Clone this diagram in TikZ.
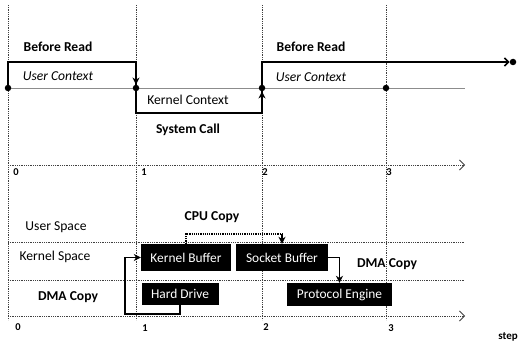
\documentclass[tikz,border=0pt]{standalone}
\usepackage{fontspec}
\setmainfont{Carlito}
\usetikzlibrary{arrows.meta}
\begin{document}
\begin{tikzpicture}[x=1pt,y=-1pt,
  grid/.style={densely dotted, line width=0.8pt, black!75},
  bound/.style={line width=0.7pt, black!45},
  lbl/.style={font=\fontsize{13.6}{15}\selectfont, inner sep=0pt},
  blbl/.style={font=\fontsize{13.6}{15}\selectfont\bfseries, inner sep=0pt},
  ilbl/.style={font=\fontsize{13.6}{15}\selectfont\itshape, inner sep=0pt},
  tick/.style={font=\fontsize{10.5}{12}\selectfont\bfseries, inner sep=0pt},
  bbox/.style={fill=black, text=white, font=\fontsize{13.4}{15}\selectfont, inner sep=0pt},
  tl/.style={line width=1.6pt, black},
  dot/.style={circle, fill=black, inner sep=0pt, minimum size=6.5pt}]
\useasboundingbox (0,0) rectangle (523,345);
% vertical grid
\foreach \x in {8,136,262,386} \draw[grid] (\x,5) -- (\x,320);
% horizontal lines
\draw[bound] (8,88) -- (465,88);
\draw[grid,-{Straight Barb[length=5pt]}] (8,165) -- (465,165);
\draw[grid] (8,242) -- (465,242);
\draw[grid] (8,280) -- (465,280);
\draw[grid,-{Straight Barb[length=5pt]}] (8,316) -- (465,316);
% ticks
\node[tick] (t0) at (16,172) {0};
\node[tick] (t1) at (144,172) {1};
\node[tick] (t2) at (265,172) {2};
\node[tick] (t3) at (389,172) {3};
\node[tick] (b0) at (18,327) {0};
\node[tick] (b1) at (145,328) {1};
\node[tick] (b2) at (266,327) {2};
\node[tick] (b3) at (391,328) {3};
\node[tick, font=\fontsize{11}{12}\selectfont\bfseries] (step) at (508,337) {step};
% timeline
\node[dot] (d0) at (8,88) {};
\node[dot] (d1) at (136,88) {};
\node[dot] (d2) at (262,88) {};
\node[dot] (d3) at (386,88) {};
\node[dot] (dend) at (513,62) {};
\coordinate (p1) at (8,62);
\coordinate (p2) at (136,62);
\coordinate (p3) at (136,113);
\coordinate (p4) at (262,113);
\coordinate (p5) at (262,62);
\draw[tl] (d0.center) -- (p1) -- (p2) -- (p3) -- (p4) -- (p5) -- (506,62);
\draw[tl,-{Stealth[length=7pt,width=7pt]}] (p2) -- (d1.north);
\draw[tl,-{Stealth[length=7pt,width=7pt]}] (p4) -- (d2.south);
\draw[tl,-{Straight Barb[length=4pt,width=8pt]}] (p5) -- (dend.west);
% texts
\node[blbl] (br1) at (58,47) {Before Read};
\node[blbl] (br2) at (311,47) {Before Read};
\node[ilbl] (uc1) at (58,76) {User Context};
\node[ilbl] (uc2) at (311,77) {User Context};
\node[lbl] (kc) at (188,100) {Kernel Context};
\node[blbl] (sc) at (188,130) {System Call};
\node[lbl] (us) at (56,227) {User Space};
\node[lbl] (ks) at (55,257) {Kernel Space};
\node[blbl] (dma1) at (68,297) {DMA Copy};
\node[blbl] (cpu) at (212,217) {CPU Copy};
\node[blbl] (dma2) at (387,264) {DMA Copy};
% boxes
\node[bbox, minimum width=90pt, minimum height=27pt] (kb) at (186,257.5) {Kernel Buffer};
\node[bbox, minimum width=92pt, minimum height=27pt] (sb) at (282,257.5) {Socket Buffer};
\node[bbox, minimum width=77pt, minimum height=22pt] (hd) at (180,294) {Hard Drive};
\node[bbox, minimum width=105pt, minimum height=23pt] (pe) at (339.5,294.5) {Protocol Engine};
% connectors
\coordinate (hdc) at (125,314);
\draw[line width=1.2pt,-{Stealth[length=7pt,width=7pt]}] (hd.south) |- (hdc) |- (kb.west);
\coordinate (cpuc) at (282,234);
\draw[densely dotted, line width=1.2pt] (kb.north) |- (cpuc);
\draw[line width=1.2pt,-{Stealth[length=7pt,width=7pt]}] (cpuc) -- (sb.north);
\draw[line width=1.2pt,-{Stealth[length=7pt,width=7pt]}] (sb.east) -| (pe.north);
\end{tikzpicture}
\end{document}
